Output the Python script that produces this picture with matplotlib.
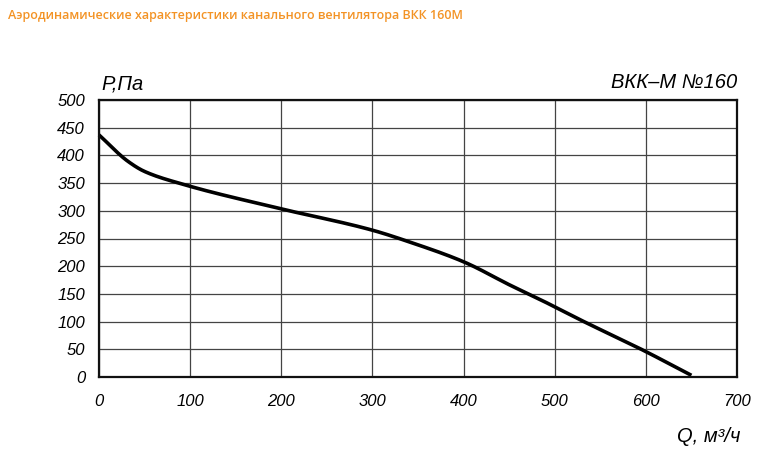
import matplotlib
matplotlib.use("Agg")
import matplotlib.pyplot as plt
import numpy as np

q = [0, 32, 50, 94, 196, 300, 342, 400, 452, 485, 532, 595, 650]
p = [437, 389, 371, 347, 305, 265, 243, 208, 165, 139, 100, 50, 3]

xticks = [0, 100, 200, 300, 400, 500, 600, 700]
yticks = [0, 50, 100, 150, 200, 250, 300, 350, 400, 450, 500]

title = "Аэродинамические характеристики канального вентилятора ВКК 160М"
model = "ВКК–М №160"

fig = plt.figure(figsize=(7.68, 4.54), dpi=100)
ax = fig.add_axes([99/768, 1-377/454, (737-99)/768, (377-100)/454])
ax.set_xlim(0, 700)
ax.set_ylim(0, 500)
ax.set_xticks(xticks)
ax.set_yticks(yticks)
ax.grid(True, color="#444444", linewidth=0.9)
ax.tick_params(length=0)
ax.tick_params(axis="x", pad=12)
ax.tick_params(axis="y", pad=10)
for s in ax.spines.values():
    s.set_linewidth(1.6)
    s.set_color("#111111")

fam = ["Liberation Sans", "DejaVu Sans"]
tickfont = dict(family=fam, style="italic", size=12)
ax.set_xticklabels([str(v) for v in xticks], **tickfont)
ax.set_yticklabels([str(v) for v in yticks], **tickfont)

# monotone cubic (PCHIP) through the read points
xs = np.array(q, float); ys = np.array(p, float)
h = np.diff(xs); d = np.diff(ys) / h
m = np.zeros_like(ys)
for i in range(1, len(xs)-1):
    if d[i-1]*d[i] > 0:
        w1 = 2*h[i] + h[i-1]; w2 = h[i] + 2*h[i-1]
        m[i] = (w1 + w2) / (w1/d[i-1] + w2/d[i])
m[0] = d[0]; m[-1] = d[-1]
qq = np.linspace(xs[0], xs[-1], 500)
idx = np.clip(np.searchsorted(xs, qq) - 1, 0, len(xs)-2)
t = (qq - xs[idx]) / h[idx]
h00 = 2*t**3 - 3*t**2 + 1; h10 = t**3 - 2*t**2 + t
h01 = -2*t**3 + 3*t**2; h11 = t**3 - t**2
pp = h00*ys[idx] + h10*h[idx]*m[idx] + h01*ys[idx+1] + h11*h[idx]*m[idx+1]
ax.plot(qq, pp, color="black", linewidth=2.6, solid_capstyle="butt", clip_on=False)

labfont = dict(family=fam, style="italic", size=14.5)
fig.text(101/768, 1-84/454, "P,Па", ha="left", va="center", **labfont)
fig.text(737/768, 1-82/454, model, ha="right", va="center", **labfont)
fig.text(740/768, 1-436/454, "Q, м³/ч", ha="right", va="center", **labfont)

fig.text(8/768, 1-15/454, title, ha="left", va="center", color="#F39325",
         family=["Open Sans", "DejaVu Sans"], weight="semibold", size=9.0)

fig.savefig("out.png", dpi=100)
